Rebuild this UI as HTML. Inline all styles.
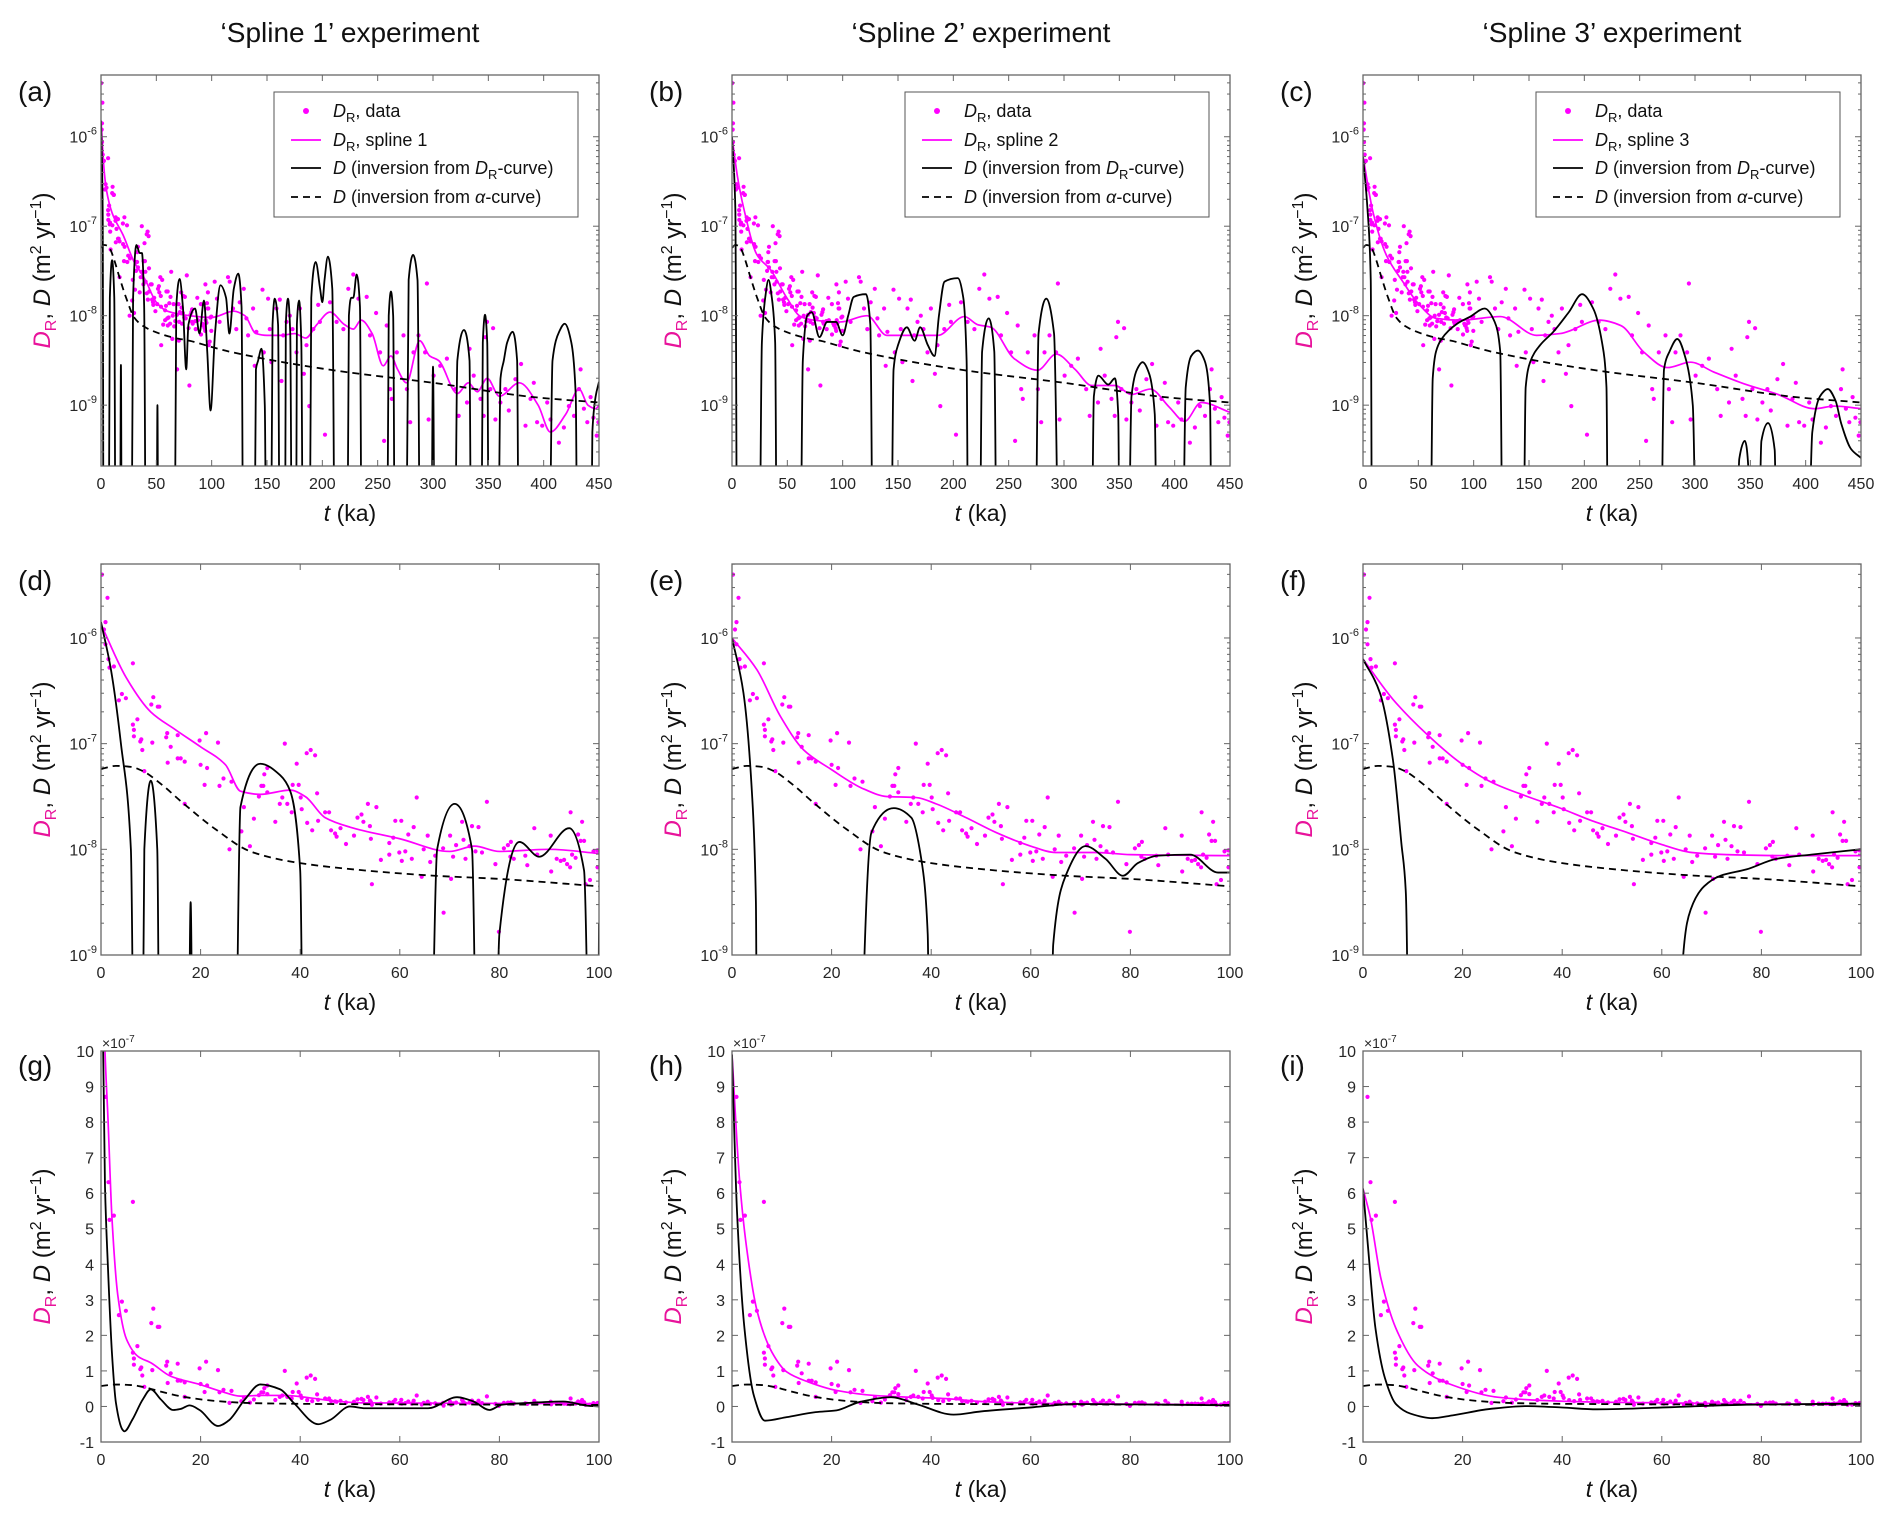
<!DOCTYPE html>
<html><head><meta charset="utf-8"><title>Spline experiments</title>
<style>
html,body{margin:0;padding:0;background:#fff;}
svg{display:block;font-family:"Liberation Sans",Arial,sans-serif;}
</style></head>
<body>
<svg id="fig" width="1892" height="1523" viewBox="0 0 1892 1523">
<rect x="0" y="0" width="1892" height="1523" fill="#fff"/>
<text x="350" y="42" font-size="28" text-anchor="middle" fill="#111">‘Spline 1’ experiment</text>
<text x="981" y="42" font-size="28" text-anchor="middle" fill="#111">‘Spline 2’ experiment</text>
<text x="1612" y="42" font-size="28" text-anchor="middle" fill="#111">‘Spline 3’ experiment</text>
</svg>
<script>
// ---------- data (t in ka, log10 D_R) ----------
const dataT=[0.2,1.3,0.9,0.6,0.9,1.5,1.7,2.6,3.6,4.2,5.0,6.4,6.4,6.6,6.6,7.3,7.9,8.1,8.3,8.7,10.1,10.3,10.5,11.4,11.7,13.1,13.3,13.4,14.0,15.4,15.4,16.0,16.8,16.8,19.8,20.0,20.8,21.1,21.3,23.5,23.8,24.6,26.2,25.8,28.2,28.7,29.9,30.7,31.7,32.2,32.6,32.8,33.4,33.4,35.0,35.9,36.4,36.9,37.4,38.3,38.5,39.3,39.7,40.1,40.3,41.3,41.4,42.1,42.4,43.0,43.4,43.6,45.0,45.8,46.2,47.0,47.3,48.1,49.2,50.8,51.5,52.3,52.7,53.6,54.0,54.2,54.4,55.3,56.2,57.9,57.9,58.7,59.1,59.9,60.3,60.4,61.1,61.7,62.4,62.8,63.4,64.4,64.8,65.6,66.1,67.1,68.7,68.8,70.1,70.3,70.7,71.3,72.5,72.8,73.2,74.0,74.5,75.2,75.8,76.5,77.5,79.2,79.9,80.9,81.7,82.3,82.2,82.9,85.2,85.6,87.0,87.6,90.3,90.4,91.5,92.3,93.0,93.6,94.2,94.3,94.6,95.3,95.8,96.3,96.6,97.0,97.3,98.2,98.9,99.7,99.7,
102.7,104.8,107.2,114.8,116.3,119.3,122.3,125.3,129,131.4,132.9,137.4,138.9,140.4,145.9,147.1,151,152.5,154,158.6,161.6,163.1,164.6,167.6,170.6,173,176.7,179.7,183.3,185.7,188.2,191.8,196.3,197.8,202.4,206.9,212.9,219,223.5,228,232.6,240.1,243.1,248.6,252.2,255.8,258.2,261.3,262.8,267.3,273.3,276.4,279.4,282.4,286.9,292.9,294.5,296,300.5,306.5,312.6,320.1,323.2,330.7,333.1,336.8,342.9,345.8,347.3,348.8,354.3,351.9,356.4,360.9,365.4,368.5,374.5,379.6,383.6,388.1,391.1,394.1,398.7,403.2,406.2,413.8,418.3,422.8,427.4,431.9,433.4,436.4,439.4,442.4,444.9,447.9,449.5];
const dataL=[-5.40,-5.62,-5.85,-5.92,-6.06,-6.20,-6.28,-6.27,-6.59,-6.53,-6.57,-6.24,-6.82,-6.87,-6.93,-6.77,-6.98,-6.96,-7.06,-7.26,-6.63,-6.99,-6.56,-6.65,-6.65,-6.94,-6.90,-7.18,-7.03,-6.92,-7.14,-7.14,-7.17,-7.57,-6.97,-7.20,-7.39,-6.90,-7.23,-6.99,-7.40,-7.33,-7.36,-8.00,-7.83,-7.60,-7.97,-7.71,-7.50,-7.40,-7.40,-7.29,-7.23,-7.46,-7.74,-7.57,-7.51,-7.00,-7.57,-7.65,-7.39,-7.19,-7.39,-7.51,-7.62,-7.09,-7.75,-7.06,-7.82,-7.11,-7.47,-7.73,-7.65,-7.65,-7.82,-7.85,-7.88,-7.80,-7.95,-7.87,-7.70,-7.67,-7.74,-7.57,-7.78,-7.90,-8.33,-7.60,-8.10,-7.94,-8.05,-7.89,-7.73,-8.03,-7.73,-8.11,-8.02,-7.86,-8.09,-7.79,-7.51,-8.26,-8.00,-7.87,-8.12,-8.06,-7.99,-8.60,-7.87,-8.28,-8.07,-7.96,-7.74,-7.91,-8.09,-7.97,-7.78,-8.02,-7.79,-8.03,-7.55,-8.14,-8.78,-7.99,-7.96,-7.93,-8.07,-8.09,-8.06,-8.15,-7.80,-8.05,-7.87,-8.21,-8.09,-8.11,-8.10,-8.14,-8.17,-7.65,-8.05,-8.08,-7.86,-7.92,-7.74,-7.92,-8.33,-8.29,-8.02,-8.01,-8.17,
-7.62,-7.81,-8.07,-7.57,-7.62,-7.92,-8.15,-7.85,-7.70,-8.03,-8.22,-7.92,-8.56,-8.18,-7.71,-8.41,-7.81,-8.15,-8.52,-7.92,-7.82,-8.73,-8.22,-8.07,-8.00,-8.15,-8.41,-7.92,-8.65,-8.33,-9.01,-8.15,-7.88,-8.07,-9.33,-7.85,-8.07,-8.15,-7.70,-7.54,-7.81,-7.79,-8.22,-7.97,-8.41,-9.40,-8.11,-8.82,-8.93,-8.41,-8.22,-8.82,-9.19,-8.41,-8.22,-8.41,-7.64,-9.16,-8.67,-8.56,-8.48,-8.82,-9.12,-8.97,-8.37,-8.67,-8.93,-9.12,-8.24,-8.07,-8.14,-8.82,-9.16,-8.97,-8.82,-9.06,-8.71,-8.54,-9.23,-8.93,-8.75,-9.19,-9.23,-8.97,-9.16,-9.42,-9.25,-9.01,-9.12,-8.82,-8.60,-9.04,-9.19,-8.91,-9.14,-9.34,-9.19];

// alpha-curve inversion (shared), log10 D
const alphaCurve=[[0,-7.24],[3,-7.21],[6,-7.22],[8.4,-7.26],[12,-7.38],[16.4,-7.56],[23,-7.81],[30,-8.02],[38.6,-8.12],[53,-8.2],[67,-8.25],[80,-8.28],[100,-8.35],[119,-8.41],[210,-8.61],[300,-8.75],[391,-8.91],[450,-8.97]];

// top row (0-450 ka), log10
const splineA=[[0,-5.82],[3,-6.4],[5,-6.6],[10,-6.85],[20,-7.1],[30,-7.4],[35,-7.5],[40,-7.6],[50,-7.85],[60,-7.95],[80,-8.0],[100,-8.02],[120,-7.95],[130,-8.0],[140,-8.2],[150,-8.22],[163,-8.22],[175,-8.2],[185,-8.25],[195,-8.1],[207,-7.96],[220,-8.1],[228,-8.15],[235,-8.05],[245,-8.2],[255,-8.56],[262,-8.45],[268,-8.6],[276,-8.75],[288,-8.28],[297,-8.45],[305,-8.5],[322,-8.87],[332,-8.75],[340,-8.85],[349,-8.7],[360,-8.9],[378,-8.75],[395,-9.0],[406,-9.3],[420,-9.1],[432,-8.82],[440,-9.0],[447,-9.04],[450,-9.0]];
const blackA=[[0,-5.82],[1.5,-6.8],[2.5,-12],[6.5,-12],[8,-7.8],[10,-7.38],[12,-7.8],[13.5,-12],[17,-12],[18,-8.55],[19,-12],[27,-12],[29,-7.8],[32,-7.21],[35,-7.3],[37,-7.3],[39,-7.9],[41,-12],[50,-12],[51,-9.0],[52,-12],[66,-12],[68,-7.9],[71,-7.59],[74,-7.9],[77,-8.6],[79,-8.1],[85,-7.92],[89,-8.2],[93,-7.83],[96,-8.4],[99,-9.06],[103,-8.2],[108,-7.66],[113,-7.8],[116,-8.2],[120,-7.7],[124,-7.53],[127,-7.9],[129,-12],[138,-12],[140,-8.6],[142,-8.5],[145,-8.37],[148,-9.0],[150,-12],[153,-12],[155,-8.1],[157,-7.81],[160,-8.1],[162,-12],[166,-12],[167,-8.1],[169,-7.81],[171,-8.2],[173,-12],[176,-12],[177,-8.1],[179,-7.83],[181,-8.3],[183,-12],[188,-12],[190,-7.8],[194,-7.4],[198,-7.7],[200,-7.85],[202,-7.6],[205,-7.34],[209,-7.7],[212,-12],[222,-12],[224,-8.0],[226,-7.8],[228,-7.8],[231,-7.54],[234,-7.9],[236,-12],[258,-12],[260,-8.0],[262,-7.73],[264,-8.0],[266,-12],[275,-12],[278,-7.6],[282,-7.32],[286,-7.6],[289,-12],[298,-12],[300,-8.57],[302,-12],[319,-12],[322,-8.5],[328,-8.16],[333,-8.5],[335,-12],[343,-12],[345,-8.3],[347,-7.99],[349,-8.3],[351,-12],[358,-12],[361,-8.7],[364,-8.5],[367,-8.3],[372,-8.18],[376,-8.5],[378,-12],[404,-12],[408,-8.5],[414,-8.18],[419,-8.09],[425,-8.3],[429,-8.9],[431,-12],[442,-12],[444,-9.3],[447,-8.9],[450,-8.74]];
const splineB=[[0,-6.0],[5,-6.45],[10.6,-6.8],[22.6,-7.32],[35,-7.49],[50,-7.81],[62,-8.01],[74,-8.05],[98,-8.07],[122,-8.0],[140,-8.22],[156,-8.22],[186,-8.22],[210,-8.01],[222,-8.1],[234,-8.13],[255,-8.48],[276,-8.61],[293,-8.43],[310,-8.6],[325,-8.78],[346,-8.78],[361,-8.88],[378,-8.82],[395,-9.02],[409,-9.18],[424,-8.97],[450,-9.08]];
const blackB=[[0,-6.0],[3,-6.8],[5,-12],[24,-12],[27,-8.3],[30,-7.8],[33,-7.6],[36,-7.8],[39,-8.3],[41,-12],[61,-12],[64,-8.5],[68,-8.0],[72,-7.96],[79,-8.24],[86,-8.07],[94,-8.07],[100,-8.22],[105,-8.0],[110,-7.79],[121,-7.76],[125,-8.1],[128,-12],[143,-12],[146,-8.6],[150,-8.33],[158,-8.13],[165,-8.28],[170,-8.13],[177,-8.33],[183,-8.45],[187,-8.0],[192,-7.62],[204,-7.58],[209,-7.8],[212,-8.5],[214,-12],[223,-12],[226,-8.4],[232,-8.03],[237,-8.4],[240,-12],[273,-12],[277,-8.2],[284,-7.81],[291,-8.2],[297,-12],[324,-12],[327,-8.9],[331,-8.67],[340,-8.77],[346,-8.7],[349,-9.1],[351,-12],[357,-12],[361,-8.9],[366,-8.6],[371,-8.52],[377,-8.65],[382,-9.1],[385,-12],[406,-12],[410,-8.8],[415,-8.45],[421,-8.39],[427,-8.5],[432,-9.0],[434,-12],[450,-12]];
const splineC=[[0,-6.22],[9,-6.84],[21,-7.32],[36,-7.62],[51,-7.88],[66,-8.03],[88,-8.05],[124,-8.01],[157,-8.22],[178,-8.2],[214,-8.05],[233,-8.11],[254,-8.41],[275,-8.58],[296,-8.52],[317,-8.63],[344,-8.76],[375,-8.88],[408,-9.04],[426,-9.01],[450,-9.04]];
const blackC=[[0,-6.22],[4,-6.8],[7,-7.6],[8.5,-12],[60,-12],[63,-8.7],[66,-8.4],[71,-8.26],[85,-8.09],[97,-8.01],[110,-7.92],[119,-8.07],[124,-8.4],[127,-12],[144,-12],[147,-8.8],[151,-8.52],[160,-8.33],[172,-8.18],[186,-7.96],[198,-7.76],[208,-7.92],[216,-8.3],[220,-8.8],[222,-12],[268,-12],[272,-8.6],[277,-8.4],[284,-8.26],[292,-8.5],[298,-9.0],[303,-12],[336,-12],[340,-9.6],[345,-9.4],[349,-9.9],[350,-12],[356,-12],[360,-9.4],[366,-9.2],[372,-9.5],[375,-12],[400,-12],[406,-9.3],[413,-8.9],[420,-8.82],[427,-8.95],[432,-9.2],[441,-9.49],[450,-9.59]];

// middle row (0-100 ka), log10
const splineD=[[0,-5.87],[5,-6.37],[10,-6.7],[15,-6.87],[20,-7.03],[25,-7.2],[28,-7.45],[32,-7.48],[38,-7.44],[41,-7.5],[45,-7.7],[50,-7.79],[60,-7.9],[70,-8.02],[75,-7.97],[80,-8.02],[90,-8.0],[100,-8.04]];
const blackD=[[0,-5.85],[2,-6.3],[4,-7.0],[6,-8.0],[7,-12],[8,-12],[8.7,-8.0],[10,-7.35],[11.3,-8.0],[12,-12],[17.3,-12],[18,-8.5],[18.7,-12],[26.5,-12],[28,-7.6],[32,-7.19],[36,-7.3],[38,-7.45],[40,-8.2],[41,-12],[65.5,-12],[67.5,-8.0],[71,-7.57],[74.5,-8.0],[76,-12],[78.5,-12],[80,-8.8],[84,-7.93],[88,-8.07],[94,-7.8],[97,-8.2],[98.8,-12],[99.5,-12],[100,-8.7]];
const splineE=[[0,-6.0],[5,-6.3],[9.7,-6.74],[14.4,-7.06],[19.8,-7.24],[26.5,-7.43],[31,-7.5],[37,-7.51],[41,-7.57],[47,-7.7],[53,-7.84],[60,-7.97],[65,-8.03],[73,-8.03],[80,-8.05],[100,-8.06]];
const blackE=[[0,-6.0],[2.3,-6.52],[4,-7.46],[4.8,-8.5],[5.2,-12],[25.8,-12],[26.6,-9.0],[28,-7.84],[32.5,-7.61],[36,-7.7],[38,-8.09],[39.3,-8.8],[40,-12],[63.5,-12],[64.5,-8.9],[67,-8.25],[71,-7.97],[75,-8.09],[78.5,-8.25],[81.5,-8.13],[85.6,-8.06],[92,-8.05],[97.6,-8.22],[100,-8.22]];
const splineF=[[0,-6.2],[6,-6.58],[12.8,-6.91],[19.5,-7.18],[26,-7.37],[33,-7.5],[39.6,-7.61],[46,-7.73],[53,-7.84],[59.7,-7.95],[66,-8.03],[73,-8.05],[86.6,-8.06],[100,-8.06]];
const blackF=[[0,-6.2],[3.4,-6.52],[6,-7.15],[7.7,-7.94],[8.6,-8.41],[8.9,-9.2],[9.2,-12],[63.5,-12],[64.3,-9.0],[65.8,-8.57],[68.5,-8.35],[71.8,-8.25],[77,-8.19],[83,-8.09],[90,-8.05],[100,-8.0]];

// bottom row (0-100 ka), linear, units of 1e-7
const splineG=[[0,15],[0.8,10],[1.4,8.1],[2.2,5.3],[3.4,3.1],[5.1,1.9],[7.5,1.4],[10,1.23],[14,0.85],[19.8,0.62],[24,0.43],[28,0.29],[32,0.31],[37,0.31],[42,0.24],[47,0.15],[53,0.1],[100,0.08]];
const blackG=[[0,15],[0.8,6.2],[1.4,3.9],[2.2,1.5],[3,0.1],[4.3,-0.65],[4.7,-0.7],[6.3,-0.37],[8.4,0.2],[10,0.48],[12,0.2],[14.5,-0.1],[16,-0.07],[17.8,0.03],[19.8,-0.1],[23.5,-0.55],[25.6,-0.4],[28.9,0.2],[32,0.62],[36,0.48],[38.7,0.1],[43.6,-0.5],[46,-0.38],[50,0],[53,-0.05],[61.6,-0.05],[65.7,-0.05],[71.5,0.26],[74.8,0.14],[78,-0.1],[80.5,0.05],[86,0.1],[92.8,0.14],[97.7,0.02],[100,0]];
const splineH=[[0,9.9],[1.5,6.4],[2.9,4.5],[5.1,2.65],[8,1.53],[11,0.97],[15.3,0.69],[21,0.45],[28.5,0.31],[35.8,0.26],[43,0.22],[50,0.14],[65,0.08],[100,0.05]];
const blackH=[[0,9.9],[1,5.5],[2.5,2.2],[4.4,0.3],[6.6,-0.4],[11,-0.3],[16.8,-0.16],[21,-0.11],[25.5,0.12],[32,0.26],[37,0.07],[44.5,-0.23],[50,-0.14],[60.6,-0.02],[69,0.07],[100,0.03]];
const splineI=[[0,6.13],[1.5,5.3],[3.6,3.6],[6.6,2.2],[11,1.15],[18,0.6],[27,0.26],[35.8,0.17],[47.4,0.12],[100,0.05]];
const blackI=[[0,6.13],[1,4.5],[2.5,2.2],[4.4,0.8],[6.6,0.07],[9.5,-0.2],[13.9,-0.33],[18,-0.25],[25.5,-0.07],[33,0.01],[40,-0.03],[47,-0.08],[62,-0.02],[77,0.05],[100,0.08]];

const xTicksTop=[0,50,100,150,200,250,300,350,400,450];
const xTicksZoom=[0,20,40,60,80,100];
const yTicksLin=[-1,0,1,2,3,4,5,6,7,8,9,10];
const panelLabels=['a','b','c','d','e','f','g','h','i'];
const splineNames=['1','2','3'];

// ---------- layout ----------
const svg=document.getElementById('fig');
const SVGNS=svg.namespaceURI;
const colX=[101,732,1363], rowY=[75,564,1051], PW=498, PH=391;
const MAG='#ff00ff';
function el(tag,parent){const e=document.createElementNS(SVGNS,tag);parent.appendChild(e);return e;}

function monoPath(pts){
  const n=pts.length; if(n<2) return '';
  const h=[],d=[],m=new Array(n).fill(0);
  for(let i=0;i<n-1;i++){h[i]=pts[i+1][0]-pts[i][0];d[i]=(pts[i+1][1]-pts[i][1])/h[i];}
  m[0]=d[0]; m[n-1]=d[n-2];
  for(let i=1;i<n-1;i++){
    if(d[i-1]*d[i]<=0) m[i]=0;
    else m[i]=3*(h[i-1]+h[i])/((2*h[i]+h[i-1])/d[i-1]+(h[i]+2*h[i-1])/d[i]);
  }
  let s='M'+pts[0][0].toFixed(2)+','+pts[0][1].toFixed(2);
  for(let i=0;i<n-1;i++){
    const x0=pts[i][0],y0=pts[i][1],x1=pts[i+1][0],y1=pts[i+1][1],hh=h[i]/3;
    s+=' C'+(x0+hh).toFixed(2)+','+(y0+m[i]*hh).toFixed(2)+' '+(x1-hh).toFixed(2)+','+(y1-m[i+1]*hh).toFixed(2)+' '+x1.toFixed(2)+','+y1.toFixed(2);
  }
  return s;
}

const panels=[
 {row:0,col:0,type:'log',xmax:450,Lt:-5.31,Lb:-9.68,sp:splineA,bk:blackA},
 {row:0,col:1,type:'log',xmax:450,Lt:-5.31,Lb:-9.68,sp:splineB,bk:blackB},
 {row:0,col:2,type:'log',xmax:450,Lt:-5.31,Lb:-9.68,sp:splineC,bk:blackC},
 {row:1,col:0,type:'log',xmax:100,Lt:-5.30,Lb:-9.0,sp:splineD,bk:blackD},
 {row:1,col:1,type:'log',xmax:100,Lt:-5.30,Lb:-9.0,sp:splineE,bk:blackE},
 {row:1,col:2,type:'log',xmax:100,Lt:-5.30,Lb:-9.0,sp:splineF,bk:blackF},
 {row:2,col:0,type:'lin',xmax:100,sp:splineG,bk:blackG},
 {row:2,col:1,type:'lin',xmax:100,sp:splineH,bk:blackH},
 {row:2,col:2,type:'lin',xmax:100,sp:splineI,bk:blackI}
];

panels.forEach((p,pi)=>{
  const x0=colX[p.col], y0=rowY[p.row];
  const X=t=>x0+t/p.xmax*PW;
  const Y=p.type==='log' ? (L=>y0+(p.Lt-L)/(p.Lt-p.Lb)*PH) : (v=>y0+(10-v)/11*PH);
  const lab=panelLabels[pi];
  const g=el('g',svg);
  
  

  const cp=el('clipPath',g); cp.setAttribute('id','clip-'+lab);
  const cr=el('rect',cp); cr.setAttribute('x',x0); cr.setAttribute('y',y0); cr.setAttribute('width',PW); cr.setAttribute('height',PH);

  const plot=el('g',g);
  plot.setAttribute('clip-path','url(#clip-'+lab+')');
  
  

  // data dots
  const dots=el('g',plot);
  
  
  for(let i=0;i<dataT.length;i++){
    if(dataT[i]>p.xmax) continue;
    const val=p.type==='log'?dataL[i]:Math.pow(10,dataL[i]+7);
    const c=el('circle',dots);
    
    
    c.setAttribute('cx',X(dataT[i]).toFixed(1)); c.setAttribute('cy',Y(val).toFixed(1)); c.setAttribute('r','2.1'); c.setAttribute('fill',MAG);
  }
  // spline
  const sp=el('path',plot);
  
  
  sp.setAttribute('d',monoPath(p.sp.map(q=>[X(q[0]),Y(q[1])])));
  sp.setAttribute('fill','none'); sp.setAttribute('stroke',MAG); sp.setAttribute('stroke-width','1.7');
  // black inversion
  const bk=el('path',plot);
  
  
  bk.setAttribute('d',monoPath(p.bk.map(q=>[X(q[0]),Y(q[1])])));
  bk.setAttribute('fill','none'); bk.setAttribute('stroke','#000'); bk.setAttribute('stroke-width','1.8');
  // alpha dashed
  const al=el('path',plot);
  
  
  al.setAttribute('d',monoPath(alphaCurve.filter(q=>q[0]<=p.xmax).map(q=>[X(q[0]),Y(p.type==='log'?q[1]:Math.pow(10,q[1]+7))])));
  al.setAttribute('fill','none'); al.setAttribute('stroke','#000'); al.setAttribute('stroke-width','1.8'); al.setAttribute('stroke-dasharray','7 5');

  // axes box
  const box=el('rect',g);
  
  
  box.setAttribute('x',x0); box.setAttribute('y',y0); box.setAttribute('width',PW); box.setAttribute('height',PH);
  box.setAttribute('fill','none'); box.setAttribute('stroke','#666'); box.setAttribute('stroke-width','1.3');

  // ticks group
  const tk=el('g',g);
  
  
  tk.setAttribute('stroke','#666'); tk.setAttribute('stroke-width','1');
  const line=(a,b,c,d)=>{const l=el('line',tk);l.setAttribute('x1',a);l.setAttribute('y1',b);l.setAttribute('x2',c);l.setAttribute('y2',d);};

  // x ticks
  const xt=p.xmax===450?xTicksTop:xTicksZoom;
  xt.forEach(t=>{
    const x=X(t);
    line(x,y0+PH,x,y0+PH-6); line(x,y0,x,y0+6);
    const tx=el('text',g);
    
    
    tx.setAttribute('x',x); tx.setAttribute('y',y0+PH+23); tx.setAttribute('font-size','16'); tx.setAttribute('text-anchor','middle'); tx.setAttribute('fill','#262626');
    tx.textContent=t;
  });

  // y ticks
  if(p.type==='log'){
    for(let dcd=Math.floor(p.Lb);dcd<=Math.ceil(p.Lt);dcd++){
      for(let k=1;k<=9;k++){
        const L=dcd+Math.log10(k);
        if(L<p.Lb-1e-6||L>p.Lt) continue;
        const y=Y(L), len=k===1?6:3;
        line(x0,y,x0+len,y); line(x0+PW,y,x0+PW-len,y);
        if(k===1){
          const ty=el('text',g);
          
          
          ty.setAttribute('x',x0-4); ty.setAttribute('y',y+6); ty.setAttribute('font-size','16'); ty.setAttribute('text-anchor','end'); ty.setAttribute('fill','#262626');
          const b=el('tspan',ty); b.textContent='10';
          const e=el('tspan',ty); e.setAttribute('dy','-8'); e.setAttribute('font-size','11'); e.textContent=String(dcd);
        }
      }
    }
  } else {
    yTicksLin.forEach(v=>{
      const y=Y(v);
      line(x0,y,x0+6,y); line(x0+PW,y,x0+PW-6,y);
      const ty=el('text',g);
      
      
      ty.setAttribute('x',x0-7); ty.setAttribute('y',y+6); ty.setAttribute('font-size','16'); ty.setAttribute('text-anchor','end'); ty.setAttribute('fill','#262626');
      ty.textContent=String(v);
    });
    const ex=el('text',g);
    
    
    ex.setAttribute('x',x0+1); ex.setAttribute('y',y0-3); ex.setAttribute('font-size','14'); ex.setAttribute('fill','#262626');
    const b=el('tspan',ex); b.textContent='×10';
    const e=el('tspan',ex); e.setAttribute('dy','-6'); e.setAttribute('font-size','10'); e.textContent='-7';
  }

  // x label
  const xl=el('text',g);
  
  
  xl.setAttribute('x',x0+PW/2); xl.setAttribute('y',y0+PH+55); xl.setAttribute('font-size','23'); xl.setAttribute('text-anchor','middle'); xl.setAttribute('fill','#111');
  const xi=el('tspan',xl); xi.setAttribute('font-style','italic'); xi.textContent='t';
  const xr=el('tspan',xl); xr.textContent=' (ka)';

  // y label
  const yl=el('text',g);
  
  
  const yx=x0-51, yy=y0+PH/2;
  yl.setAttribute('x',yx); yl.setAttribute('y',yy); yl.setAttribute('font-size','24'); yl.setAttribute('text-anchor','middle'); yl.setAttribute('fill','#111');
  yl.setAttribute('transform','rotate(-90 '+yx+' '+yy+')');
  const y1=el('tspan',yl); y1.setAttribute('font-style','italic'); y1.setAttribute('fill','#e8139b'); y1.textContent='D';
  const y2=el('tspan',yl); y2.setAttribute('fill','#e8139b'); y2.setAttribute('font-size','16'); y2.setAttribute('dy','6'); y2.textContent='R';
  const y3=el('tspan',yl); y3.setAttribute('dy','-6'); y3.textContent=', ';
  const y4=el('tspan',yl); y4.setAttribute('font-style','italic'); y4.textContent='D';
  const y5=el('tspan',yl); y5.textContent=' (m';
  const y6=el('tspan',yl); y6.setAttribute('font-size','16'); y6.setAttribute('dy','-9'); y6.textContent='2';
  const y7=el('tspan',yl); y7.setAttribute('dy','9'); y7.textContent=' yr';
  const y8=el('tspan',yl); y8.setAttribute('font-size','16'); y8.setAttribute('dy','-9'); y8.textContent='−1';
  const y9=el('tspan',yl); y9.setAttribute('dy','9'); y9.textContent=')';

  // panel label
  const pl=el('text',g);
  
  
  pl.setAttribute('x',x0-83); pl.setAttribute('y',y0+(p.row===2?24:26)); pl.setAttribute('font-size','28'); pl.setAttribute('fill','#111');
  pl.textContent='('+lab+')';

  // legend (top row only)
  if(p.row===0){
    const lg=el('g',g);
    
    
    const lx=x0+173, ly=92;
    const lb=el('rect',lg);
    
    
    lb.setAttribute('x',lx); lb.setAttribute('y',ly); lb.setAttribute('width',304); lb.setAttribute('height',125); lb.setAttribute('fill','#fff'); lb.setAttribute('stroke','#555'); lb.setAttribute('stroke-width','1');
    const rows=[111,140,168,197];
    // entry 1 dot
    const d1=el('circle',lg);
    
    
    d1.setAttribute('cx',lx+32); d1.setAttribute('cy',rows[0]); d1.setAttribute('r','3'); d1.setAttribute('fill',MAG);
    const l2=el('line',lg);
    
    
    l2.setAttribute('x1',lx+17); l2.setAttribute('x2',lx+47); l2.setAttribute('y1',rows[1]); l2.setAttribute('y2',rows[1]); l2.setAttribute('stroke',MAG); l2.setAttribute('stroke-width','1.7');
    const l3=el('line',lg);
    
    
    l3.setAttribute('x1',lx+17); l3.setAttribute('x2',lx+47); l3.setAttribute('y1',rows[2]); l3.setAttribute('y2',rows[2]); l3.setAttribute('stroke','#000'); l3.setAttribute('stroke-width','1.8');
    const l4=el('line',lg);
    
    
    l4.setAttribute('x1',lx+17); l4.setAttribute('x2',lx+47); l4.setAttribute('y1',rows[3]); l4.setAttribute('y2',rows[3]); l4.setAttribute('stroke','#000'); l4.setAttribute('stroke-width','1.8'); l4.setAttribute('stroke-dasharray','7 5');
    const tx=lx+59;
    const mkT=(y,name)=>{const t=el('text',lg);t.setAttribute('x',tx);t.setAttribute('y',y+6);t.setAttribute('font-size','18');t.setAttribute('fill','#111');return t;};
    const t1=mkT(rows[0]);
    
    
    t1.innerHTML='<tspan font-style="italic">D</tspan><tspan font-size="13" dy="5">R</tspan><tspan dy="-5">, data</tspan>';
    const t2=mkT(rows[1]);
    
    
    t2.innerHTML='<tspan font-style="italic">D</tspan><tspan font-size="13" dy="5">R</tspan><tspan dy="-5">, spline '+splineNames[p.col]+'</tspan>';
    const t3=mkT(rows[2]);
    
    
    t3.innerHTML='<tspan font-style="italic">D</tspan><tspan> (inversion from </tspan><tspan font-style="italic">D</tspan><tspan font-size="13" dy="5">R</tspan><tspan dy="-5">-curve)</tspan>';
    const t4=mkT(rows[3]);
    
    
    t4.innerHTML='<tspan font-style="italic">D</tspan><tspan> (inversion from </tspan><tspan font-style="italic">α</tspan><tspan>-curve)</tspan>';
  }
});
</script>
</body></html>
